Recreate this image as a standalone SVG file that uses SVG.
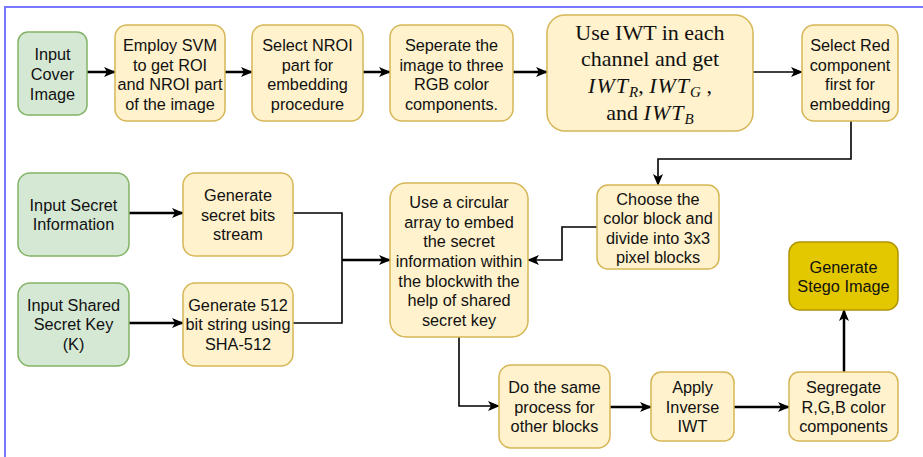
<svg xmlns="http://www.w3.org/2000/svg" width="923" height="457" viewBox="0 0 923 457">
  <style>
    .y { fill: #fff2cc; stroke: #d6b656; stroke-width: 1.5; }
    .g { fill: #d5e8d4; stroke: #82b366; stroke-width: 1.5; }
    .s { fill: #e3c800; stroke: #b09500; stroke-width: 1.5; }
    .t { font-family: "Liberation Sans", Arial, sans-serif; font-size: 16.3px; fill: #111; text-anchor: middle; dominant-baseline: central; }
    .m { font-family: "Liberation Serif", "Times New Roman", serif; font-size: 22px; fill: #111; text-anchor: middle; }
    .i { font-style: italic; letter-spacing: 1px; }
    .sub { font-style: italic; font-size: 15px; }
    .w { fill: none; stroke: #000; stroke-width: 2.5; }
    .n { fill: none; stroke: #000; stroke-width: 1.6; }
  </style>
  <defs>
    <marker id="arrow" markerUnits="userSpaceOnUse" markerWidth="12" markerHeight="12" viewBox="0 0 12 12" refX="11" refY="6" orient="auto">
      <path d="M0,1 L12,6 L0,11 L3,6 z" fill="#000"/>
    </marker>
  </defs>

  <!-- frame -->
  <path d="M5,457 V7 H923" fill="none" stroke="#7777ff" stroke-width="2"/>

  <g id="connectors">
    <line class="w" x1="87" y1="72" x2="115" y2="72" marker-end="url(#arrow)"/>
    <line class="w" x1="225" y1="72" x2="252" y2="72" marker-end="url(#arrow)"/>
    <line class="w" x1="363" y1="72" x2="390" y2="72" marker-end="url(#arrow)"/>
    <line class="w" x1="513" y1="72" x2="547" y2="72" marker-end="url(#arrow)"/>
    <line class="n" x1="753" y1="72" x2="802" y2="72" marker-end="url(#arrow)"/>
    <path class="n" d="M851,121 V159 H658 V185" marker-end="url(#arrow)"/>
    <path class="n" d="M597,227 H562 V260 H528" marker-end="url(#arrow)"/>
    <line class="w" x1="129" y1="213" x2="183" y2="213" marker-end="url(#arrow)"/>
    <line class="w" x1="129" y1="323" x2="183" y2="323" marker-end="url(#arrow)"/>
    <path class="n" d="M293,213 H342 V323 H293"/>
    <line class="w" x1="342" y1="260" x2="390" y2="260" marker-end="url(#arrow)"/>
    <path class="n" d="M459,337 V406 H499" marker-end="url(#arrow)"/>
    <line class="w" x1="610" y1="407" x2="651" y2="407" marker-end="url(#arrow)"/>
    <line class="w" x1="734" y1="407" x2="789" y2="407" marker-end="url(#arrow)"/>
    <line class="w" x1="844" y1="372" x2="844" y2="310" marker-end="url(#arrow)"/>
  </g>

  <g id="input-cover">
    <rect class="g" x="18" y="32" width="69" height="83" rx="10"/>
    <text class="t"><tspan x="52.5" y="54">Input</tspan><tspan x="52.5" y="74">Cover</tspan><tspan x="52.5" y="94">Image</tspan></text>
  </g>
  <g id="employ-svm">
    <rect class="y" x="115" y="25" width="110" height="96" rx="12"/>
    <text class="t"><tspan x="170" y="45">Employ SVM</tspan><tspan x="170" y="64.5">to get ROI</tspan><tspan x="170" y="84">and NROI part</tspan><tspan x="170" y="103.5">of the image</tspan></text>
  </g>
  <g id="select-nroi">
    <rect class="y" x="252" y="25" width="111" height="96" rx="12"/>
    <text class="t"><tspan x="307.5" y="45">Select NROI</tspan><tspan x="307.5" y="64.5">part for</tspan><tspan x="307.5" y="84">embedding</tspan><tspan x="307.5" y="103.5">procedure</tspan></text>
  </g>
  <g id="separate-rgb">
    <rect class="y" x="390" y="25" width="123" height="96" rx="12"/>
    <text class="t"><tspan x="451.5" y="45">Seperate the</tspan><tspan x="451.5" y="64.5">image to three</tspan><tspan x="451.5" y="84">RGB color</tspan><tspan x="451.5" y="103.5">components.</tspan></text>
  </g>
  <g id="use-iwt">
    <rect class="y" x="547" y="15" width="206" height="116" rx="18"/>
    <text class="m" x="650" y="40">Use IWT in each</text>
    <text class="m" x="650" y="66">channel and get</text>
    <text class="m" x="650" y="93"><tspan class="i">IWT</tspan><tspan class="sub" dy="4">R</tspan><tspan dy="-4">, </tspan><tspan class="i">IWT</tspan><tspan class="sub" dy="4">G</tspan><tspan dy="-4"> ,</tspan></text>
    <text class="m" x="650" y="120">and <tspan class="i">IWT</tspan><tspan class="sub" dy="4">B</tspan></text>
  </g>
  <g id="select-red">
    <rect class="y" x="802" y="25" width="96" height="96" rx="12"/>
    <text class="t"><tspan x="850" y="45">Select Red</tspan><tspan x="850" y="64.5">component</tspan><tspan x="850" y="84">first for</tspan><tspan x="850" y="103.5">embedding</tspan></text>
  </g>
  <g id="choose-block">
    <rect class="y" x="597" y="185" width="122" height="84" rx="11"/>
    <text class="t"><tspan x="658" y="198.5">Choose the</tspan><tspan x="658" y="218">color block and</tspan><tspan x="658" y="237.5">divide into 3x3</tspan><tspan x="658" y="257">pixel blocks</tspan></text>
  </g>
  <g id="circular-array">
    <rect class="y" x="390" y="183" width="138" height="154" rx="16"/>
    <text class="t"><tspan x="459" y="202">Use a circular</tspan><tspan x="459" y="221.7">array to embed</tspan><tspan x="459" y="241.4">the secret</tspan><tspan x="459" y="261">information within</tspan><tspan x="459" y="280.7">the blockwith the</tspan><tspan x="459" y="300.4">help of shared</tspan><tspan x="459" y="320">secret key</tspan></text>
  </g>
  <g id="input-secret">
    <rect class="g" x="18" y="173" width="111" height="83" rx="12"/>
    <text class="t"><tspan x="73.5" y="204.5">Input Secret</tspan><tspan x="73.5" y="224">Information</tspan></text>
  </g>
  <g id="secret-bits">
    <rect class="y" x="183" y="173" width="110" height="83" rx="12"/>
    <text class="t"><tspan x="238" y="195">Generate</tspan><tspan x="238" y="214.5">secret bits</tspan><tspan x="238" y="234">stream</tspan></text>
  </g>
  <g id="input-key">
    <rect class="g" x="18" y="283" width="111" height="83" rx="12"/>
    <text class="t"><tspan x="73.5" y="304.5">Input Shared</tspan><tspan x="73.5" y="324">Secret Key</tspan><tspan x="73.5" y="343.5">(K)</tspan></text>
  </g>
  <g id="sha512">
    <rect class="y" x="183" y="283" width="110" height="83" rx="12"/>
    <text class="t"><tspan x="238" y="304.5">Generate 512</tspan><tspan x="238" y="324">bit string using</tspan><tspan x="238" y="343.5">SHA-512</tspan></text>
  </g>
  <g id="same-process">
    <rect class="y" x="499" y="365" width="111" height="83" rx="12"/>
    <text class="t"><tspan x="554.5" y="387">Do the same</tspan><tspan x="554.5" y="406.5">process for</tspan><tspan x="554.5" y="426">other blocks</tspan></text>
  </g>
  <g id="inverse-iwt">
    <rect class="y" x="651" y="372" width="83" height="69" rx="10"/>
    <text class="t"><tspan x="692.5" y="387">Apply</tspan><tspan x="692.5" y="406.5">Inverse</tspan><tspan x="692.5" y="426">IWT</tspan></text>
  </g>
  <g id="segregate">
    <rect class="y" x="789" y="372" width="109" height="69" rx="10"/>
    <text class="t"><tspan x="843.5" y="387">Segregate</tspan><tspan x="843.5" y="406.5">R,G,B color</tspan><tspan x="843.5" y="426">components</tspan></text>
  </g>
  <g id="stego-image">
    <rect class="s" x="789" y="242" width="109" height="68" rx="11"/>
    <text class="t"><tspan x="843.5" y="266.5">Generate</tspan><tspan x="843.5" y="286">Stego Image</tspan></text>
  </g>
</svg>
